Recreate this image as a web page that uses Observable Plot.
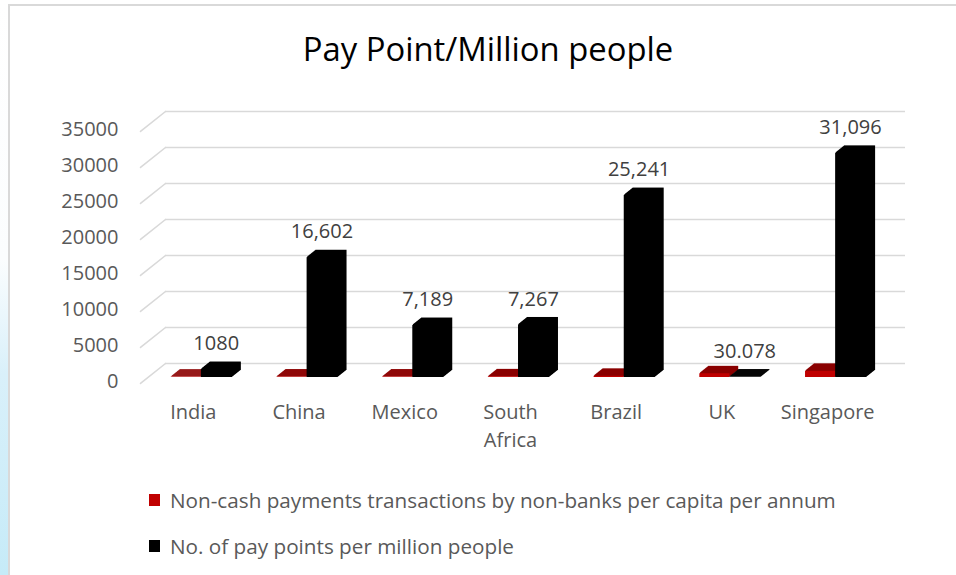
<!DOCTYPE html>
<html>
<head>
<meta charset="utf-8">
<script src="https://cdn.jsdelivr.net/npm/d3@7"></script>
<script src="https://cdn.jsdelivr.net/npm/@observablehq/plot@0.6"></script>
<style>
  html, body { margin: 0; padding: 0; background: #fff; }
  #wrap { position: relative; width: 956px; height: 575px; overflow: hidden; background: #fff; font-family: "Open Sans", sans-serif; }
  #strip { position: absolute; left: 0; top: 0; width: 8px; height: 575px;
    background: linear-gradient(to bottom, #ffffff 0%, #fbfdfe 45%, #d9f0fa 65%, #c6ebf8 100%); }
  #border { position: absolute; left: 8px; top: 4px; width: 960px; height: 600px; border-left: 2px solid #d9d9d9; border-top: 2px solid #d9d9d9; box-sizing: border-box; }
  #chart { position: absolute; left: 0; top: 0; }
  #title { position: absolute; left: 0; width: 976px; top: 28px; text-align: center; font-size: 32.8px; color: #000; line-height: 42px; }
  .leg { position: absolute; left: 149px; font-size: 20.7px; color: #595959; line-height: 24px; display: flex; align-items: center; }
  .sw { width: 11px; height: 12px; margin-right: 10px; }
</style>
</head>
<body>
<div id="wrap">
  <div id="strip"></div>
  <div id="border"></div>
  <div id="chart"></div>
  <div id="title">Pay Point/Million people</div>
  <div class="leg" style="top:488px"><div class="sw" style="background:#c00000"></div><span id="leg1"></span></div>
  <div class="leg" style="top:534px"><div class="sw" style="background:#000"></div><span id="leg2"></span></div>
</div>
<script>
const categories = ["India", "China", "Mexico", "South\nAfrica", "Brazil", "UK", "Singapore"];
const nonCashPerCapita = [6, 26, 26, 59, 128, 480, 820];
const payPointsPerMillion = [1080, 16602, 7189, 7267, 25241, 30.078, 31096];
const valueLabels = ["1080", "16,602", "7,189", "7,267", "25,241", "30.078", "31,096"];
const yTicks = [0, 5000, 10000, 15000, 20000, 25000, 30000, 35000];
const seriesNames = ["Non-cash payments transactions by non-banks per capita per annum", "No. of pay points per million people"];

document.getElementById("leg1").textContent = seriesNames[0];
document.getElementById("leg2").textContent = seriesNames[1];

const rows = categories.map((c, i) => ({i, c, red: nonCashPerCapita[i], black: payPointsPerMillion[i], label: valueLabels[i]}));

// oblique depth steps for 3D-looking bars
const N = 14;
const steps = d3.range(N, -1, -1);
const depth = s => ({dx: -17.5 + 8.75 * s / N, dy: 14 - 7 * s / N, insetTop: s === 0 ? -0.3 : -0.7});

const lineShape = {draw(context, l) { context.moveTo(0, 0); context.lineTo(0, -l); }};

const marks = [
  Plot.ruleY(yTicks, {stroke: "#d9d9d9", strokeWidth: 1.6}),
  Plot.vector(yTicks, {x: 0, y: d => d, length: 32, rotate: 231.34, anchor: "start", shape: lineShape, stroke: "#d9d9d9", strokeWidth: 1.6})
];
for (const s of steps) {
  marks.push(Plot.rectY(rows, {x1: d => d.i + 0.22, x2: d => d.i + 0.505, y1: 0, y2: "red", fill: s === 0 ? "#c00000" : "#8b0000", ...depth(s)}));
}
for (const s of steps) {
  marks.push(Plot.rectY(rows, {x1: d => d.i + 0.505, x2: d => d.i + 0.80, y1: 0, y2: "black", fill: "#000", ...depth(s)}));
}
marks.push(
  Plot.text(rows, {x: d => d.i + 0.48, y: "black", text: "label", dy: -12, fontSize: 20, fill: "#404040"}),
  Plot.text(yTicks, {x: 0, y: d => d, text: d => String(d), textAnchor: "end", dx: -47, dy: 18, fontSize: 20, fill: "#595959"}),
  Plot.text(rows, {x: d => d.i + 0.5, y: 0, text: "c", dx: -25, dy: 36, lineAnchor: "top", lineHeight: 1.4, fontSize: 20, fill: "#595959"})
);

const chart = Plot.plot({
  width: 956,
  height: 575,
  marginLeft: 165,
  marginRight: 51,
  marginTop: 111,
  marginBottom: 212,
  x: {domain: [0, 7], axis: null},
  y: {domain: [0, 35000], axis: null},
  style: {fontFamily: "Open Sans", background: "transparent", overflow: "visible"},
  marks
});
document.getElementById("chart").appendChild(chart);
</script>
</body>
</html>
